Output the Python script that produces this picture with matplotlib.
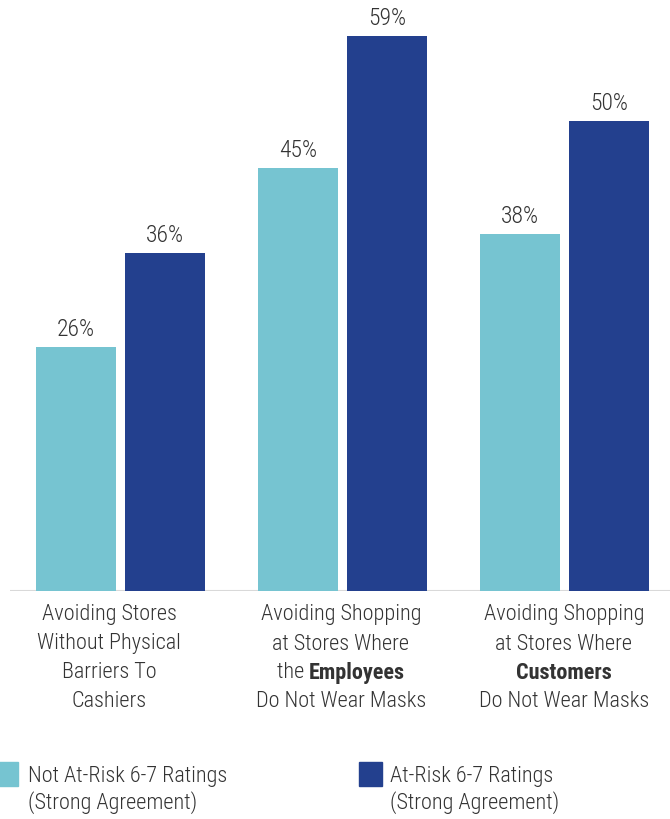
import matplotlib
matplotlib.use("Agg")
import matplotlib.pyplot as plt
from matplotlib.patches import Rectangle
import numpy as np

# ---- data ----
categories = [
    [[("Avoiding Stores", "light")], [("Without Physical", "light")], [("Barriers To", "light")], [("Cashiers", "light")]],
    [[("Avoiding Shopping", "light")], [("at Stores Where", "light")], [("the ", "light"), ("Employees", "semibold")], [("Do Not Wear Masks", "light")]],
    [[("Avoiding Shopping", "light")], [("at Stores Where", "light")], [("Customers", "semibold")], [("Do Not Wear Masks", "light")]],
]
series_names = ["Not At-Risk 6-7 Ratings\n(Strong Agreement)", "At-Risk 6-7 Ratings\n(Strong Agreement)"]
not_at_risk = [26, 45, 38]
at_risk = [36, 59, 50]

colors = ["#76C4D1", "#23408E"]
text_color = "#333333"

plt.rcParams['font.family'] = ["Roboto Condensed", "DejaVu Sans"]

W, H = 670, 820
fig = plt.figure(figsize=(W / 100, H / 100), dpi=100)
base_px = 592
px_per_pct = 9.4
ax = fig.add_axes([10 / W, (H - base_px) / H, 660 / W, base_px / H])

group_w = 222.0
x0 = -(120.5 - 10) / group_w
x1 = 2 + (670 - 564.5) / group_w
ax.set_xlim(x0, x1)
ax.set_ylim(0, base_px / px_per_pct)

x = np.arange(len(not_at_risk))
bw = 80 / group_w
off = 44.5 / group_w
b1 = ax.bar(x - off, not_at_risk, bw, color=colors[0], zorder=2)
b2 = ax.bar(x + off, at_risk, bw, color=colors[1], zorder=2)

fs = 16
fs_val = 17
for bars, vals in ((b1, not_at_risk), (b2, at_risk)):
    for r, v in zip(bars, vals):
        ax.annotate(f"{v}%", (r.get_x() + r.get_width() / 2, v), xytext=(0, 5),
                    textcoords="offset points", ha="center", va="bottom",
                    fontsize=fs_val, fontweight="light", color=text_color)

for s in ax.spines.values():
    s.set_visible(False)
ax.set_xticks([])
ax.set_yticks([])
ax.axhline(0, color="#d9d9d9", lw=2.2, zorder=1, xmin=0, xmax=1)

# ---- category labels (mixed weights) ----
fig.canvas.draw()
renderer = fig.canvas.get_renderer()
label_centers_px = [109, 341, 564]
line_y_px = [615, 644, 673, 702]
for cx, lines in zip(label_centers_px, categories):
    for ly, segs in zip(line_y_px, lines):
        texts = []
        widths = []
        for s, wgt in segs:
            t = fig.text(0, 1 - ly / H, s, fontsize=fs, fontweight=wgt,
                         color=text_color, ha="left", va="center")
            bb = t.get_window_extent(renderer=renderer)
            texts.append(t)
            widths.append(bb.width)
        total = sum(widths)
        start = cx - total / 2
        for t, w in zip(texts, widths):
            t.set_x(start / W)
            start += w

# ---- legend ----
leg_items = [(-5, 28), (359, 390)]
for (sq_x, tx), name, c in zip(leg_items, series_names, colors):
    fig.patches.append(Rectangle((sq_x / W, 1 - 787 / H), 23 / W, 24 / H,
                                 transform=fig.transFigure, color=c))
    l1, l2 = name.split("\n")
    fig.text(tx / W, 1 - 777 / H, l1, fontsize=fs, fontweight="light", color=text_color, ha="left", va="center")
    fig.text(tx / W, 1 - 803 / H, l2, fontsize=fs, fontweight="light", color=text_color, ha="left", va="center")

fig.savefig("out.png", dpi=100)
